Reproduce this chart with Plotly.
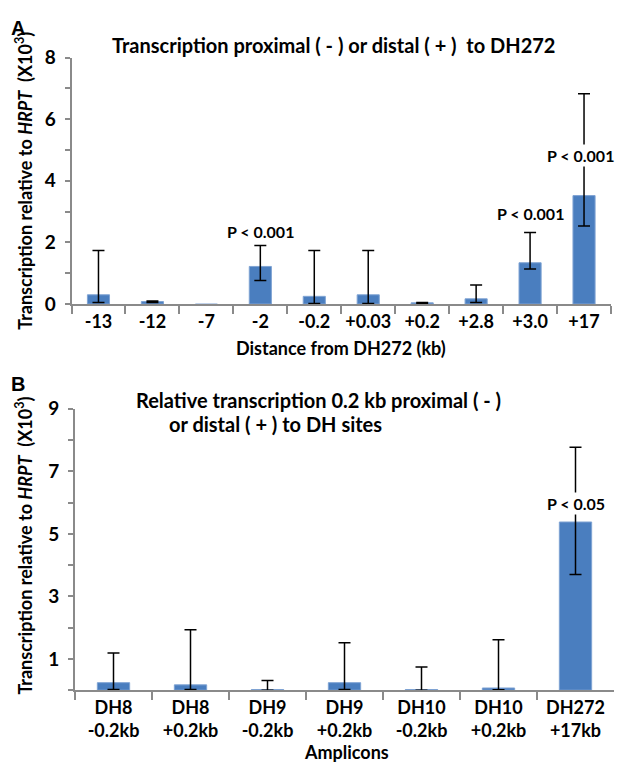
import plotly.graph_objects as go

W, H = 617, 772

# ---------- Panel A data ----------
a_cats = ["-13", "-12", "-7", "-2", "-0.2", "+0.03", "+0.2", "+2.8", "+3.0", "+17"]
a_vals = [0.30, 0.08, -0.10, 1.22, 0.25, 0.30, 0.04, 0.17, 1.34, 3.52]
a_err_plus = [1.44, 0.02, 0.02, 0.68, 1.49, 1.44, 0.01, 0.45, 0.98, 3.31]
a_err_minus = [0.25, 0.03, 0.02, 0.46, 0.23, 0.28, 0.02, 0.12, 0.20, 0.99]
a_pval_cats = ["-2", "+3.0", "+17"]
a_pval_y = [2.34, 2.94, 4.81]
a_pval_text = ["P < 0.001", "P < 0.001", "P < 0.001"]
a_yticks = [0, 1, 2, 3, 4, 5, 6, 7, 8]
a_yticklabels = ["0", "", "2", "", "4", "", "6", "", "8"]

# ---------- Panel B data ----------
b_cats = ["DH8<br>-0.2kb", "DH8<br>+0.2kb", "DH9<br>-0.2kb", "DH9<br>+0.2kb",
          "DH10<br>-0.2kb", "DH10<br>+0.2kb", "DH272<br>+17kb"]
b_vals = [0.24, 0.17, 0.02, 0.24, 0.02, 0.07, 5.38]
b_err_plus = [0.95, 1.76, 0.29, 1.28, 0.72, 1.54, 2.39]
b_err_minus = [0.22, 0.15, 0.02, 0.22, 0.02, 0.06, 1.68]
b_pval_cats = ["DH272<br>+17kb"]
b_pval_y = [5.96]
b_pval_text = ["P < 0.05"]
b_yticks = [0, 1, 2, 3, 4, 5, 6, 7, 8, 9]
b_yticklabels = ["", "1", "", "3", "", "5", "", "7", "", "9"]

FONT = "Lato"
BAR = "#4a7ebf"
AXC = "#8a8a8a"


def px(x):
    return x / W


def py(y):
    return 1 - y / H


fig = go.Figure()

fig.add_trace(go.Bar(
    x=a_cats, y=a_vals, xaxis="x", yaxis="y",
    marker=dict(color=BAR, line=dict(color="#7fa3d3", width=1)),
    width=0.41, cliponaxis=False, hoverinfo="skip",
    error_y=dict(type="data", symmetric=False, array=a_err_plus, arrayminus=a_err_minus,
                 color="black", thickness=1.5, width=6),
))
fig.add_trace(go.Bar(
    x=b_cats, y=b_vals, xaxis="x2", yaxis="y2",
    marker=dict(color=BAR, line=dict(color="#7fa3d3", width=1)),
    width=0.42, cliponaxis=False, hoverinfo="skip",
    error_y=dict(type="data", symmetric=False, array=b_err_plus, arrayminus=b_err_minus,
                 color="black", thickness=1.5, width=6),
))

tickfont = dict(family=FONT, size=18, color="black", weight="bold")

xaxis_common = dict(type="category", showline=True, linecolor=AXC, linewidth=2,
                    ticks="outside", tickson="boundaries", ticklen=8, tickwidth=2,
                    tickcolor=AXC, showgrid=False, zeroline=False, tickfont=tickfont,
                    tickangle=0, fixedrange=True)
yaxis_common = dict(showline=True, linecolor=AXC, linewidth=2, ticks="outside",
                    ticklen=5, tickwidth=2, tickcolor=AXC, showgrid=False,
                    zeroline=False, ticklabelstandoff=5, fixedrange=True,
                    tickfont=dict(family=FONT, size=19, color="black", weight="bold"))

fig.update_layout(
    width=W, height=H, margin=dict(l=0, r=0, t=0, b=0),
    paper_bgcolor="white", plot_bgcolor="white", showlegend=False,
    xaxis=dict(domain=[px(71.5), px(611)], anchor="y", range=[-0.5, len(a_cats) - 0.5],
               categoryorder="array", categoryarray=a_cats, **xaxis_common),
    yaxis=dict(domain=[py(301), py(47)], anchor="x", range=[0, 8],
               tickvals=a_yticks, ticktext=a_yticklabels, **yaxis_common),
    xaxis2=dict(domain=[px(75), px(614)], anchor="y2", range=[-0.5, len(b_cats) - 0.5],
                categoryorder="array", categoryarray=b_cats, **xaxis_common),
    yaxis2=dict(domain=[py(699), py(409)], anchor="x2", range=[0, 9],
                tickvals=b_yticks, ticktext=b_yticklabels, **yaxis_common),
)

anns = []
# p-values (positioned by category index)
for c, y, t in zip(a_pval_cats, a_pval_y, a_pval_text):
    anns.append(dict(x=a_cats.index(c), y=y, xref="x", yref="y", text="<b>" + t + "</b>",
                     showarrow=False, bgcolor="white", borderpad=1,
                     xshift=-4 if c == a_cats[-1] else 0,
                     font=dict(family=FONT, size=16, color="black")))
for c, y, t in zip(b_pval_cats, b_pval_y, b_pval_text):
    anns.append(dict(x=b_cats.index(c), y=y, xref="x2", yref="y2", text="<b>" + t + "</b>",
                     showarrow=False, bgcolor="white", borderpad=1,
                     font=dict(family=FONT, size=16, color="black")))

# panel letters
anns.append(dict(x=px(9), y=py(16), xref="paper", yref="paper", text="<b>A</b>",
                 showarrow=False, xanchor="left", yanchor="middle",
                 font=dict(family="Liberation Sans", size=20, color="black")))
anns.append(dict(x=px(9), y=py(383), xref="paper", yref="paper", text="<b>B</b>",
                 showarrow=False, xanchor="left", yanchor="middle",
                 font=dict(family="Liberation Sans", size=20, color="black")))

# titles
anns.append(dict(x=px(110), y=py(34), xref="paper", yref="paper",
                 text="<b>Transcription proximal ( - ) or distal ( + )  to DH272</b>",
                 showarrow=False, xanchor="left", yanchor="middle",
                 font=dict(family=FONT, size=20, color="black")))
anns.append(dict(x=px(134), y=py(400), xref="paper", yref="paper",
                 text="<b>Relative transcription 0.2 kb proximal ( - )</b>",
                 showarrow=False, xanchor="left", yanchor="middle",
                 font=dict(family=FONT, size=20, color="black")))
anns.append(dict(x=px(167), y=py(425), xref="paper", yref="paper",
                 text="<b>or distal ( + ) to DH sites</b>",
                 showarrow=False, xanchor="left", yanchor="middle",
                 font=dict(family=FONT, size=20, color="black")))

# axis titles
ytitle = "<b>Transcription relative to <i>HRPT</i>  (X10<sup>3</sup>)</b>"
anns.append(dict(x=px(24), y=py(174), xref="paper", yref="paper", text=ytitle,
                 textangle=-90, showarrow=False, xanchor="center", yanchor="middle",
                 font=dict(family=FONT, size=18, color="black")))
anns.append(dict(x=px(24), y=py(550), xref="paper", yref="paper", text=ytitle,
                 textangle=-90, showarrow=False, xanchor="center", yanchor="middle",
                 font=dict(family=FONT, size=18, color="black")))
anns.append(dict(x=px(341), y=py(346), xref="paper", yref="paper",
                 text="<b>Distance from DH272 (kb)</b>", showarrow=False,
                 xanchor="center", yanchor="middle",
                 font=dict(family=FONT, size=18, color="black")))
anns.append(dict(x=px(346), y=py(763), xref="paper", yref="paper",
                 text="<b>Amplicons</b>", showarrow=False,
                 xanchor="center", yanchor="middle",
                 font=dict(family=FONT, size=18, color="black")))

fig.update_layout(annotations=anns)
fig.write_html("out.html", config={"displayModeBar": False, "staticPlot": True},
               post_script="document.body.style.margin='0px';")
